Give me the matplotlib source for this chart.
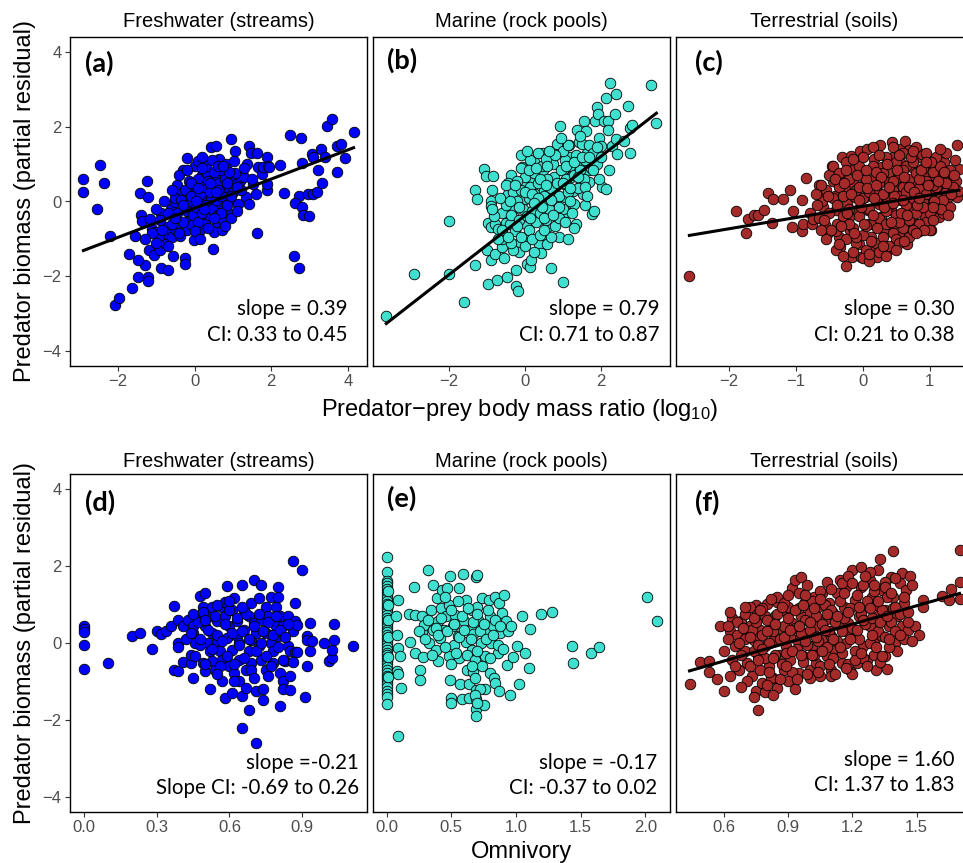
import matplotlib
matplotlib.use("Agg")
import matplotlib.pyplot as plt

plt.rcParams['font.family'] = ['Liberation Sans', 'DejaVu Sans']
plt.rcParams['mathtext.fontset'] = 'custom'
plt.rcParams['mathtext.rm'] = 'Liberation Sans'
plt.rcParams['mathtext.it'] = 'Liberation Sans:italic'

# ---- data (partial residuals) ----
# (a) freshwater, body mass ratio
fw_mass = [
    (-2.90, 0.60), (-2.90, 0.25), (-2.47, 0.98), (-2.36, 0.49), (-2.55, -0.20), (-2.21, -0.92),
    (-2.07, -2.77), (-1.98, -2.59), (-1.63, -2.32), (-1.47, -2.03), (-1.21, -2.01), (-1.21, -2.12),
    (-1.29, -1.70), (-1.47, -1.57), (-1.70, -1.41), (-1.20, -1.30), (-1.05, -1.44), (-0.90, -1.30),
    (-0.87, -1.79), (-0.68, -1.84), (-0.55, -1.45), (-0.24, -1.50), (-0.24, -1.66), (-1.55, -0.92),
    (-1.40, -0.35), (-1.37, -0.52), (-1.15, -0.46), (-1.12, -0.73), (-1.03, -0.82), (-0.93, -0.99),
    (-0.87, -0.31), (-0.77, -0.68), (-0.74, -1.13), (-0.68, -0.88), (-0.59, -0.95), (-0.48, -0.77),
    (-1.43, 0.22), (-1.21, 0.13), (-1.24, 0.54), (-0.61, -0.20), (-0.52, -0.02), (-0.45, 0.45),
    (-0.39, 0.20), (-0.37, -0.92), (-0.19, 1.16), (-0.29, 0.83), (-0.19, -0.77), (-0.17, -0.02),
    (-0.13, -0.42), (-0.07, -0.64), (-0.02, -1.02), (0.00, 0.96), (0.04, 0.31), (0.09, 1.07),
    (0.13, -0.75), (0.19, 0.72), (0.22, -0.06), (0.24, -0.42), (0.26, -0.59), (0.32, 0.75),
    (0.35, 0.12), (0.39, -0.37), (0.42, 1.45), (0.44, 0.07), (0.45, 0.36), (0.48, -1.26),
    (0.51, -0.81), (0.54, 0.65), (0.57, 1.49), (0.59, -0.55), (0.61, -0.11), (0.63, 1.14),
    (0.66, 0.12), (0.68, 0.83), (0.72, -0.77), (0.74, -0.24), (0.79, 0.38), (0.83, 1.00),
    (0.86, -0.31), (0.92, 0.07), (0.96, 1.67), (0.98, 0.65), (1.03, 1.07), (1.05, 1.36),
    (1.07, 0.47), (1.14, -0.06), (1.18, 0.56), (1.22, 0.65), (1.29, 0.65), (1.35, 0.13),
    (1.38, 1.00), (1.41, 1.49), (1.42, -0.08), (1.48, 1.31), (1.53, 0.47), (1.62, 1.31),
    (1.63, -0.84), (1.66, 0.91), (1.75, 0.74), (1.79, 0.93), (1.88, 1.18), (1.92, 0.96),
    (1.90, 0.31), (1.88, 0.47), (1.94, 0.93), (2.23, 0.98), (2.34, 0.22), (2.49, 1.78),
    (2.59, -1.45), (2.72, -1.77), (2.78, 1.69), (2.72, 0.16), (2.62, -0.04), (2.81, -0.15),
    (2.84, -0.37), (2.99, -0.40), (2.81, 1.02), (2.97, 0.20), (3.10, 0.20), (3.19, 0.25),
    (3.06, 1.27), (3.10, 1.18), (3.21, 0.83), (3.30, 1.40), (3.32, 0.49), (3.41, 1.18),
    (3.45, 2.02), (3.58, 2.22), (3.71, 0.78), (3.71, 1.49), (3.83, 1.54), (3.93, 1.16),
    (4.15, 1.85),
    (-0.50, 0.10), (-0.45, -0.30), (-0.35, 0.05), (-0.30, -0.55), (-0.25, 0.30), (-0.20, -0.25),
    (-0.15, 0.55), (-0.10, 0.15), (-0.05, -0.35), (0.00, 0.45), (0.05, -0.15), (0.10, 0.60),
    (0.10, -0.55), (0.15, 0.20), (0.20, -0.30), (0.25, 0.40), (0.30, -0.10), (0.30, 0.95),
    (0.35, -0.70), (0.40, 0.25), (0.45, -0.20), (0.50, 0.80), (0.55, 0.05), (0.60, -0.35),
    (0.65, 0.50), (0.70, 0.15), (0.75, -0.50), (0.80, 0.60), (0.85, -0.10), (0.90, 0.35),
    (0.95, -0.45), (1.00, 0.25), (1.05, 0.75), (1.10, -0.25), (1.20, 0.30), (-0.60, -0.60),
    (-0.70, -0.30), (-0.80, 0.00), (-0.90, -0.50), (-1.00, -0.20), (-0.40, 0.70), (-0.20, 0.85),
    (0.00, -0.80), (0.20, 1.20), (0.45, 1.10), (0.60, 0.30), (0.80, -0.65), (1.30, 0.90),
    (1.50, 0.60), (1.60, 0.20), (-1.10, -0.85), (-1.30, -1.00), (-1.00, -1.10), (-0.70, -1.20),
    (0.05, 0.00), (0.35, 0.55), (0.60, 0.95), (0.90, 0.80), (0.15, -1.00), (-0.40, -0.85),
    (-0.30, -0.10), (-0.10, 0.50), (0.10, 0.35), (0.25, -0.20), (0.40, 0.50), (0.55, 0.25),
    (0.70, -0.30), (0.85, 0.50), (0.95, 0.15), (0.20, 0.90), (-0.50, -0.45), (-0.60, 0.30),
    (0.50, -0.45), (0.75, 0.95), (1.10, 0.40), (-0.85, -0.75),
]

# (b) marine, body mass ratio
mar_mass = [
    (-3.65, -3.05), (-2.93, -1.93), (-2.00, -0.52), (-2.00, -1.94), (-1.59, -2.68), (-1.30, 0.31),
    (-1.27, 0.07), (-1.08, 0.87), (-1.01, 0.67), (-0.83, 0.67), (-0.86, 0.31), (-0.88, 0.01),
    (-0.88, -0.13), (-1.30, -1.70), (-0.97, -2.21), (-0.74, -2.09), (-0.48, -2.01), (-0.22, -2.26),
    (-0.18, -2.39), (-0.22, -1.82), (-0.97, -0.58), (-0.90, -0.68), (-0.79, -0.59), (-0.71, -0.73),
    (-0.50, -0.58), (-0.99, -1.29), (-0.90, -1.57), (-0.79, -1.41), (-0.59, -1.22), (-0.59, -0.99),
    (-0.37, 0.72), (-0.37, 0.45), (-0.33, 0.07), (-0.30, -0.15), (-0.28, -0.42), (-0.19, -1.13),
    (-0.15, -1.35), (-0.09, 1.25), (-0.06, 0.91), (-0.02, 0.47), (0.00, 0.07), (0.03, -0.59),
    (0.05, -0.95), (0.07, -1.66), (0.14, -1.75), (0.16, -1.57), (0.20, 0.60), (0.25, 1.05),
    (0.26, 0.20), (0.29, -0.15), (0.34, -0.42), (0.38, -1.13), (0.42, -1.38), (0.47, 1.31),
    (0.49, 0.83), (0.51, 0.29), (0.56, -0.06), (0.58, -0.68), (0.60, -0.95), (0.69, -1.79),
    (0.73, 1.18), (0.76, 0.65), (0.79, 0.38), (0.82, 0.03), (0.86, -0.42), (0.91, -0.95),
    (0.94, 2.02), (0.95, 1.40), (1.00, -2.15), (1.00, 0.83), (1.04, 0.47), (1.06, 0.12),
    (1.09, -0.28), (1.13, -0.99), (1.17, 1.52), (1.20, 1.18), (1.22, 0.65), (1.26, 0.29),
    (1.31, -0.06), (1.35, -0.59), (1.39, 1.91), (1.44, 1.58), (1.47, 1.00), (1.48, 0.51),
    (1.53, 0.20), (1.57, 2.14), (1.62, 1.89), (1.64, 1.31), (1.66, 0.83), (1.70, 0.51),
    (1.77, -0.33), (1.82, -0.26), (1.84, 2.16), (1.91, 2.53), (1.93, 2.33), (1.97, 1.71),
    (2.01, 1.49), (2.03, 0.38), (2.08, 2.16), (2.14, 2.78), (2.14, 0.34), (2.19, 2.16),
    (2.21, 0.83), (2.26, 3.18), (2.30, 1.49), (2.37, 2.35), (2.41, 2.87), (2.41, 1.67),
    (2.44, 1.27), (2.73, 2.56), (2.77, 1.96), (2.77, 1.29), (3.33, 3.11), (3.47, 2.09),
    (2.82, 2.05), (2.63, 1.62),
    (-0.60, -0.30), (-0.50, -0.10), (-0.45, 0.20), (-0.40, -0.60), (-0.35, -0.35), (-0.30, 0.25),
    (-0.25, -0.80), (-0.20, 0.00), (-0.15, -0.50), (-0.10, 0.30), (-0.05, -0.20), (0.00, 0.65),
    (0.05, -0.40), (0.10, 0.10), (0.10, -0.75), (0.15, 0.40), (0.20, -0.25), (0.25, 0.75),
    (0.30, -0.55), (0.30, 0.05), (0.35, 0.50), (0.40, -0.30), (0.45, 0.95), (0.50, 0.15),
    (0.55, -0.50), (0.60, 0.60), (0.65, -0.20), (0.70, 0.35), (0.75, 1.00), (0.80, -0.65),
    (0.85, 0.50), (0.90, 0.15), (0.95, 0.85), (1.00, -0.20), (1.05, 1.10), (1.10, 0.60),
    (1.15, 0.25), (1.20, 0.95), (1.25, -0.30), (1.30, 0.70), (1.35, 1.25), (1.40, 0.35),
    (1.45, 0.85), (1.50, 1.55), (1.55, 0.60), (1.60, 1.10), (1.70, 1.50), (1.75, 0.90),
    (1.80, 1.30), (1.90, 1.00), (-0.70, -1.00), (-0.80, -0.40), (-0.55, -1.50), (-0.30, -1.30),
    (0.00, -1.20), (0.20, -1.00), (0.40, -0.90), (0.60, -1.15), (0.90, -0.45), (1.20, 0.00),
    (-0.10, 0.90), (0.15, 1.10), (0.35, 1.30), (0.55, 1.15), (0.70, -0.95), (-0.45, 0.50),
    (-0.20, 0.55), (0.05, 1.35), (0.85, 1.55), (1.00, 1.35), (-0.65, 0.10), (-0.85, -0.20),
    (-0.35, -1.10), (0.25, -1.35), (0.50, -0.75), (1.30, -0.70), (1.60, -0.10), (2.00, 1.20),
    (1.95, 0.60), (2.20, 1.90),
    (-0.50, 0.45), (-0.40, 0.00), (-0.25, 0.45), (-0.15, -0.15), (0.00, 0.25), (0.10, 0.85),
    (0.20, 0.20), (0.30, 0.90), (0.40, 0.60), (0.50, -0.45), (0.60, 0.95), (0.70, 0.05),
    (0.80, 1.25), (0.90, -0.15), (1.00, 0.50), (1.10, 0.95), (1.20, 0.35), (1.30, 1.05),
    (1.40, 0.65), (1.50, 1.20), (1.60, 0.40), (1.70, 1.20), (1.80, 0.85), (1.90, 1.45),
    (-0.60, -0.75), (-0.45, -0.95), (-0.20, -0.65), (0.15, -0.45), (0.45, -0.15), (0.75, -0.35),
    (1.05, -0.55), (-0.10, -0.95), (0.35, 0.10), (0.65, 1.35), (1.15, 1.50), (1.45, 1.75),
    (1.65, 0.15), (0.95, 1.70), (0.55, 0.45), (0.25, -0.05),
]

# (c) terrestrial, body mass ratio
ter_mass = [
    (-2.59, -1.99), (-1.90, -0.26), (-1.75, -0.84), (-1.71, -0.46), (-1.63, -0.37), (-1.56, -0.37),
    (-1.48, -0.24), (-1.41, 0.22), (-1.34, 0.07), (-1.35, -0.57), (-1.19, 0.07), (-1.09, 0.31),
    (-1.05, -0.68), (-1.04, -0.26), (-0.91, 0.04), (-0.90, -0.80), (-0.89, -0.59), (-0.85, 0.63),
    (-0.78, -0.31), (-0.76, -0.59), (-0.74, -0.46), (-0.65, 0.43), (-0.61, 0.20), (-0.59, -0.15),
    (-0.56, -0.64), (-0.54, -0.86), (-0.46, 0.96), (-0.44, 0.56), (-0.41, 0.16), (-0.40, -0.24),
    (-0.39, -0.59), (-0.36, -0.95), (-0.34, -1.22), (-0.31, 1.18), (-0.29, 0.74), (-0.26, 0.38),
    (-0.25, -1.73), (-0.24, -0.06), (-0.21, -0.42), (-0.19, -0.77), (-0.18, 1.22), (-0.16, -1.48),
    (-0.15, 0.83), (-0.13, 0.47), (-0.11, 0.12), (-0.09, -0.24), (-0.06, -1.13), (-0.04, 1.36),
    (-0.03, -1.48), (-0.01, 0.83), (0.02, 0.47), (0.04, 0.12), (0.07, 1.40), (0.08, -0.24),
    (0.09, -0.59), (0.12, -0.95), (0.14, -1.22), (0.17, 1.14), (0.19, 0.65), (0.21, -1.48),
    (0.22, 0.29), (0.24, -0.06), (0.26, 1.52), (0.27, -0.42), (0.29, 0.91), (0.32, -0.77),
    (0.34, 0.56), (0.37, 0.12), (0.39, -1.26), (0.42, -0.24), (0.44, 1.58), (0.46, 1.18),
    (0.47, -0.59), (0.49, 0.74), (0.52, 0.38), (0.54, 1.40), (0.56, -0.95), (0.57, 0.03),
    (0.59, 1.00), (0.62, -0.42), (0.63, 1.62), (0.64, 0.56), (0.67, -1.13), (0.69, 1.38),
    (0.71, 0.20), (0.72, -0.77), (0.74, 0.91), (0.77, -0.24), (0.79, 0.47), (0.82, -0.59),
    (0.84, 1.18), (0.87, 0.12), (0.89, 1.27), (0.91, 0.65), (0.93, -0.42), (0.96, 0.29),
    (0.97, -0.06), (0.99, 1.00), (1.02, -0.77), (1.04, 0.56), (1.07, -0.24), (1.09, 0.12),
    (1.12, 0.74), (1.14, -0.42), (1.17, 1.18), (1.19, 0.38), (1.21, 1.05), (1.22, -0.06),
    (1.24, 0.47), (1.27, 0.12), (1.32, 0.65), (1.39, 0.56), (1.41, 1.51), (1.41, 0.13),
    (1.44, 0.87), (1.43, 0.29),
    (-0.60, 0.00), (-0.55, 0.30), (-0.50, -0.30), (-0.45, 0.10), (-0.40, -0.80), (-0.35, 0.40),
    (-0.30, -0.40), (-0.30, 0.15), (-0.25, -1.00), (-0.20, 0.60), (-0.20, -0.20), (-0.15, -0.70),
    (-0.10, 0.30), (-0.10, -1.10), (-0.05, 0.95), (-0.05, -0.40), (0.00, 0.10), (0.00, -0.90),
    (0.05, 0.60), (0.05, -1.30), (0.10, -0.20), (0.10, 0.25), (0.15, -0.60), (0.15, 0.95),
    (0.20, -1.10), (0.20, 0.05), (0.25, -0.45), (0.25, 0.50), (0.30, -0.95), (0.30, 0.20),
    (0.35, -0.60), (0.35, 1.20), (0.40, -0.10), (0.40, 0.80), (0.45, -0.85), (0.45, 0.30),
    (0.50, -0.35), (0.50, 1.05), (0.50, -1.00), (0.55, 0.15), (0.55, 0.65), (0.60, -0.70),
    (0.60, 0.40), (0.65, -0.10), (0.65, 0.95), (0.70, -0.50), (0.70, 0.60), (0.75, 0.10),
    (0.75, 1.05), (0.80, -0.30), (0.80, 0.75), (0.85, -0.80), (0.85, 0.35), (0.90, 0.00),
    (0.90, 0.90), (0.95, -0.55), (0.95, 0.55), (1.00, 0.20), (1.00, -0.30), (1.05, 0.80),
    (1.05, -0.50), (1.10, 0.40), (1.10, -0.05), (1.15, 0.95), (1.15, 0.10), (1.20, -0.30),
    (1.20, 0.60), (1.25, 0.25), (1.30, 0.85), (1.30, -0.15), (1.35, 0.40), (1.38, 1.10),
    (-0.65, -0.45), (-0.70, 0.20), (-0.50, 0.70), (-0.40, -1.30), (-0.30, -1.45), (-0.15, -1.35),
    (0.00, -1.50), (0.10, -1.60), (0.25, -1.35), (0.40, -1.20), (0.55, -1.10), (0.70, -0.95),
    (0.85, -0.60), (1.00, -0.75), (0.00, 1.20), (0.15, 1.45), (0.45, 1.45), (0.60, 1.30),
    (0.80, 1.45), (0.95, 1.30), (1.10, 1.20), (1.25, 1.30), (-0.45, 0.95), (-0.35, 0.75),
    (-0.25, 1.05), (0.30, 0.75), (0.65, 0.25), (0.35, -0.25), (-0.05, 0.40), (0.20, 0.80),
    (0.75, -0.75), (0.90, -0.15), (1.20, 0.05), (0.55, -0.55), (-0.20, -0.60), (0.05, -0.65),
    (0.45, 0.55), (0.85, 0.60), (1.05, 0.45), (0.60, 0.85), (0.30, -1.20), (-0.10, -0.95),
    (0.70, 0.40), (0.95, 0.20), (1.25, 0.50),
    (-0.68, -0.10), (-0.62, 0.45), (-0.58, -0.50), (-0.52, 0.15), (-0.48, -0.75), (-0.42, 0.60),
    (-0.38, -0.10), (-0.33, -0.65), (-0.28, 0.50), (-0.23, -0.30), (-0.18, 0.20), (-0.13, -0.85),
    (-0.08, 0.70), (-0.03, -0.15), (0.02, -0.60), (0.07, 0.35), (0.12, -1.05), (0.17, 0.10),
    (0.22, -0.70), (0.27, 0.65), (0.32, -0.15), (0.37, 1.00), (0.42, -0.55), (0.47, 0.15),
    (0.52, 0.85), (0.57, -0.30), (0.62, 0.65), (0.67, -0.35), (0.72, 1.20), (0.77, 0.25),
    (0.82, -0.10), (0.87, 0.85), (0.92, -0.75), (0.97, 0.45), (1.02, 1.05), (1.07, 0.00),
    (1.12, 0.55), (1.17, -0.20), (1.22, 0.80), (1.27, -0.35), (1.32, 0.20), (1.37, 0.70),
    (-0.15, 1.15), (0.05, 0.85), (0.25, 1.25), (0.55, 1.25), (0.75, 1.35), (0.95, 1.05),
    (1.15, 1.40), (-0.35, -1.15), (0.10, -1.40), (0.35, -1.45), (0.50, -1.30), (0.62, -1.05),
    (0.80, -0.85), (-0.55, -1.00), (-0.62, -0.75), (0.45, -0.05), (0.15, -0.35), (-0.05, 0.05),
    (0.60, 0.05), (0.85, 0.10), (1.05, -0.15), (0.40, 0.40), (0.20, 0.45), (-0.25, 0.85),
]

# (d) freshwater, omnivory
fw_omni = [
    (0.00, 0.43), (0.00, 0.36), (0.00, 0.28), (0.00, -0.04), (0.00, -0.67), (0.10, -0.52),
    (0.20, 0.17), (0.23, 0.26), (0.28, -0.16), (0.30, 0.32), (0.32, 0.24), (0.34, 0.32),
    (0.36, 0.43), (0.37, 0.97), (0.37, -0.69), (0.39, -0.72), (0.39, 0.59), (0.39, 0.00),
    (0.39, -0.10), (0.41, -0.50), (0.41, 0.45), (0.43, 0.59), (0.44, -0.52), (0.44, -0.30),
    (0.45, -0.91), (0.45, 0.26), (0.45, 0.43), (0.46, 0.00), (0.47, 0.69), (0.48, 1.22),
    (0.49, 0.95), (0.49, -0.52), (0.50, -0.72), (0.50, 0.43), (0.50, 1.29), (0.51, 0.00),
    (0.52, 0.69), (0.52, -0.22), (0.52, -1.21), (0.53, 0.26), (0.53, -0.47), (0.53, 0.93),
    (0.54, -0.69), (0.55, 0.02), (0.55, 0.56), (0.56, -0.22), (0.57, 0.95), (0.57, -0.99),
    (0.57, -0.43), (0.58, -1.42), (0.58, 0.69), (0.58, 1.08), (0.59, 0.13), (0.59, 1.48),
    (0.60, -0.60), (0.60, 0.43), (0.61, -1.29), (0.61, 0.86), (0.61, -0.17), (0.62, -0.78),
    (0.62, 1.16), (0.63, 0.17), (0.63, 0.56), (0.64, -0.45), (0.64, 0.00), (0.64, -0.99),
    (0.65, 1.51), (0.65, -2.20), (0.65, -1.38), (0.66, 0.86), (0.66, 0.34), (0.67, -0.69),
    (0.67, -1.16), (0.68, -1.74), (0.68, -0.22), (0.68, 0.69), (0.69, 1.03), (0.69, 0.09),
    (0.69, -0.52), (0.70, 1.64), (0.70, 0.52), (0.71, 0.26), (0.71, -2.60), (0.71, -1.25),
    (0.72, 1.16), (0.72, -0.09), (0.73, 1.51), (0.73, -0.43), (0.73, 0.60), (0.74, -1.21),
    (0.74, -1.48), (0.75, 0.95), (0.75, -0.69), (0.75, 0.26), (0.76, -0.86), (0.76, 0.69),
    (0.77, 1.21), (0.77, 0.00), (0.78, -0.22), (0.78, -0.52), (0.79, 0.43), (0.79, 0.95),
    (0.80, 0.17), (0.80, 1.47), (0.80, 1.21), (0.81, 0.69), (0.81, -1.64), (0.81, -0.78),
    (0.82, -0.99), (0.82, -1.21), (0.82, 0.43), (0.83, -0.47), (0.84, 0.69), (0.84, -0.09),
    (0.85, -0.22), (0.85, -1.22), (0.85, -0.86), (0.86, 2.14), (0.86, 0.30), (0.87, 0.56),
    (0.87, 1.03), (0.87, -0.24), (0.88, 0.47), (0.88, -0.24), (0.90, 1.90), (0.91, -1.40),
    (0.92, -0.60), (0.92, 0.17), (0.92, 0.09), (0.93, -0.22), (0.93, 0.52), (0.94, 0.04),
    (0.99, 0.00), (1.01, -0.47), (1.02, -0.39), (1.02, -0.17), (1.03, 0.07), (1.03, 0.50),
    (1.11, -0.09),
    (0.42, 0.10), (0.44, 0.25), (0.46, -0.35), (0.47, 0.55), (0.48, -0.05), (0.49, 0.80),
    (0.50, -0.55), (0.51, 0.35), (0.53, -0.15), (0.54, 0.70), (0.55, 0.20), (0.56, -0.60),
    (0.57, 0.05), (0.58, 0.50), (0.59, -0.35), (0.60, 0.85), (0.61, 0.25), (0.62, -0.55),
    (0.63, 0.65), (0.64, -0.05), (0.65, 0.30), (0.66, -0.40), (0.67, 0.75), (0.68, 0.10),
    (0.69, -0.70), (0.70, 0.45), (0.71, -0.20), (0.72, 0.75), (0.73, 0.00), (0.74, 0.30),
    (0.75, -0.35), (0.76, 0.55), (0.77, -0.60), (0.78, 0.20), (0.79, 0.70), (0.80, -0.10),
    (0.81, 0.35), (0.82, -0.45), (0.83, 0.15), (0.84, 0.50), (0.45, 0.75), (0.50, 0.60),
    (0.55, 1.00), (0.60, 1.10), (0.65, 0.95), (0.70, -0.90), (0.62, -1.00), (0.55, -0.80),
    (0.48, 0.10), (0.86, -0.50),
]

# (e) marine, omnivory
mar_omni = [
    (0.00, 2.24), (0.00, 1.85), (0.00, 1.62), (0.00, 1.55), (0.00, 1.48), (0.00, 1.40),
    (0.00, 1.32), (0.00, 1.25), (0.00, 1.18), (0.00, 1.10), (0.00, 1.02), (0.00, 0.95),
    (0.00, 0.88), (0.00, 0.80), (0.00, 0.72), (0.00, 0.65), (0.00, 0.58), (0.00, 0.50),
    (0.00, 0.42), (0.00, 0.35), (0.00, 0.28), (0.00, 0.20), (0.00, 0.12), (0.00, 0.05),
    (0.00, -0.02), (0.00, -0.10), (0.00, -0.18), (0.00, -0.25), (0.00, -0.32), (0.00, -0.40),
    (0.00, -0.48), (0.00, -0.55), (0.00, -0.62), (0.00, -0.70), (0.00, -0.78), (0.00, -0.85),
    (0.00, -0.92), (0.00, -1.00), (0.00, -1.08), (0.00, -1.15), (0.00, -1.25), (0.00, -1.32),
    (0.00, -1.40), (0.00, -1.58), (0.01, 1.36), (0.01, 0.98), (0.01, 0.60), (0.01, 0.15),
    (0.01, -0.36), (0.01, -0.88),
    (0.09, 1.12), (0.07, 0.71), (0.08, 0.22), (0.09, -0.13), (0.10, -0.34), (0.08, -0.73),
    (0.09, -0.82), (0.11, -1.16), (0.09, -2.43),
    (0.17, 0.76), (0.18, 0.03), (0.21, 1.45), (0.22, 0.73), (0.22, -0.26), (0.26, -0.69),
    (0.26, -0.97), (0.27, 0.69), (0.27, 0.28), (0.28, -0.36), (0.29, 0.47), (0.32, 1.91),
    (0.33, 0.00), (0.34, 0.86), (0.36, 0.33), (0.36, 1.51), (0.38, -0.17), (0.39, 1.16),
    (0.40, 0.56), (0.40, -0.47), (0.41, 0.13), (0.42, 0.91), (0.43, 1.38), (0.44, 0.34),
    (0.46, 0.69), (0.47, 1.42), (0.48, 0.99), (0.48, -0.34), (0.49, 1.74), (0.49, -0.97),
    (0.50, -1.42), (0.50, -1.55), (0.51, 0.43), (0.52, -0.04), (0.53, 0.73), (0.55, 0.17),
    (0.56, 1.42), (0.56, -0.39), (0.57, -1.08), (0.58, -1.47), (0.59, 1.79), (0.60, 0.56),
    (0.61, 1.12), (0.61, 0.02), (0.62, -0.69), (0.64, -1.08), (0.64, -1.42), (0.65, 0.34),
    (0.66, 0.86), (0.66, -0.17), (0.67, -0.76), (0.67, 0.24), (0.68, -0.91), (0.69, -1.22),
    (0.69, -1.47), (0.69, -1.72), (0.69, -1.90), (0.69, 1.72), (0.70, 1.77), (0.70, 0.95),
    (0.71, -0.52), (0.71, 0.60), (0.73, 0.00), (0.74, 1.16), (0.75, -1.62), (0.76, -1.21),
    (0.76, -0.34), (0.78, 0.26), (0.79, 1.12), (0.80, 0.69), (0.80, -0.78), (0.81, 0.00),
    (0.82, 0.43), (0.83, -0.91), (0.84, -1.03), (0.84, 1.21), (0.86, -0.26), (0.87, 1.03),
    (0.87, -1.25), (0.88, 0.26), (0.89, 0.78), (0.91, 1.25), (0.92, 0.56), (0.93, -0.56),
    (0.94, 0.30), (0.95, -1.36), (0.96, 0.43), (0.98, -0.36), (1.01, -0.07), (1.02, -1.08),
    (1.05, 0.69), (1.07, -0.26), (1.10, -0.65), (1.11, 0.36), (1.19, 0.76), (1.28, 0.82),
    (1.43, -0.07), (1.44, -0.52), (1.58, -0.26), (1.64, -0.10), (2.01, 1.21), (2.09, 0.56),
    (0.25, 0.30), (0.30, 0.10), (0.32, 0.60), (0.35, -0.30), (0.38, 0.40), (0.40, 0.20),
    (0.42, 0.65), (0.45, -0.10), (0.47, 0.30), (0.50, 0.85), (0.52, 0.50), (0.54, -0.25),
    (0.56, 0.15), (0.58, 0.70), (0.60, 0.35), (0.62, -0.30), (0.63, 0.90), (0.65, 0.10),
    (0.67, 0.55), (0.68, -0.45), (0.70, 0.75), (0.72, 0.30), (0.74, -0.60), (0.75, 0.50),
    (0.77, 0.10), (0.78, 0.85), (0.80, -0.40), (0.82, 0.20), (0.84, 0.60), (0.86, -0.05),
    (0.88, 0.45), (0.90, -0.15), (0.70, -0.20), (0.72, -1.20), (0.68, -1.35), (0.70, -1.55),
    (0.66, -0.60), (0.50, -0.55), (0.55, 1.10), (0.45, 1.20),
]

# (f) terrestrial, omnivory
ter_omni = [
    (0.44, -1.08), (0.49, -0.50), (0.53, -0.47), (0.53, -0.76), (0.58, 0.43), (0.63, 0.30),
    (0.63, -0.86), (0.64, 0.65), (0.65, -0.09), (0.67, -0.69), (0.68, 0.56), (0.69, 0.17),
    (0.70, -0.22), (0.71, -0.52), (0.72, 0.45), (0.73, -0.86), (0.74, 0.09), (0.75, 0.86),
    (0.75, -1.25), (0.76, -1.74), (0.76, -0.34), (0.77, 0.34), (0.78, -1.03), (0.79, 0.69),
    (0.79, -1.28), (0.79, -0.09), (0.80, 1.02), (0.81, -0.60), (0.82, 0.43), (0.83, -0.91),
    (0.83, 0.09), (0.84, 0.69), (0.85, -1.16), (0.85, 1.08), (0.86, -0.30), (0.87, 0.34),
    (0.88, -0.69), (0.88, 0.86), (0.89, -0.09), (0.90, 0.95), (0.91, -0.43), (0.92, 1.42),
    (0.92, 0.52), (0.93, -1.21), (0.93, 1.64), (0.94, 0.09), (0.95, -0.78), (0.96, 0.69),
    (0.96, 1.71), (0.97, -0.34), (0.98, 1.08), (0.99, 1.51), (0.99, 0.26), (1.00, -0.69),
    (1.00, 0.78), (1.01, -0.09), (1.02, 1.21), (1.03, 0.43), (1.03, -0.52), (1.04, 0.95),
    (1.05, -0.86), (1.06, 0.09), (1.06, 1.29), (1.07, 0.60), (1.08, -0.34), (1.09, 1.03),
    (1.10, 0.17), (1.10, -0.69), (1.11, 0.78), (1.12, -0.17), (1.13, 1.29), (1.14, 0.43),
    (1.14, 1.64), (1.15, -0.52), (1.16, 0.95), (1.17, 0.00), (1.17, 1.47), (1.18, 0.52),
    (1.19, -0.69), (1.20, 1.90), (1.21, 1.12), (1.21, 0.17), (1.22, -0.52), (1.23, 0.69),
    (1.24, 1.98), (1.24, 1.47), (1.25, -0.09), (1.26, 0.95), (1.27, -0.43), (1.28, 0.43),
    (1.28, 1.64), (1.29, 1.21), (1.30, 0.00), (1.31, -0.69), (1.32, 0.69), (1.32, 1.90),
    (1.33, 2.20), (1.34, 0.17), (1.34, 1.38), (1.35, -0.34), (1.35, 0.86), (1.36, -0.67),
    (1.37, 0.43), (1.38, 1.72), (1.39, 1.21), (1.39, 2.39), (1.40, 0.00), (1.41, 0.69),
    (1.41, -0.22), (1.42, 1.55), (1.43, 1.81), (1.43, 0.43), (1.44, 1.03), (1.45, 1.38),
    (1.46, 0.34), (1.47, 1.74), (1.48, 1.51), (1.49, 0.43), (1.51, 0.22), (1.53, 1.12),
    (1.53, 0.95), (1.62, 1.22), (1.66, 1.40), (1.65, 1.12), (1.70, 2.41), (1.70, 1.59),
    (1.70, 1.14),
    (0.66, 0.20), (0.68, -0.30), (0.70, 0.10), (0.72, -0.60), (0.73, 0.35), (0.74, -0.20),
    (0.75, 0.55), (0.76, -0.05), (0.77, -0.70), (0.78, 0.20), (0.79, -0.40), (0.80, 0.60),
    (0.81, 0.00), (0.82, -0.90), (0.83, 0.30), (0.84, -0.30), (0.85, 0.75), (0.86, 0.10),
    (0.87, -0.55), (0.88, 0.45), (0.89, -0.25), (0.90, 0.65), (0.91, 0.15), (0.92, -0.75),
    (0.93, 0.40), (0.94, -0.15), (0.95, 0.90), (0.96, 0.25), (0.97, -0.50), (0.98, 0.60),
    (0.99, -0.05), (1.00, 0.35), (1.01, 1.10), (1.02, -0.30), (1.03, 0.70), (1.04, 0.05),
    (1.05, -0.60), (1.06, 0.50), (1.07, 1.00), (1.08, -0.10), (1.09, 0.30), (1.10, 0.85),
    (1.11, -0.40), (1.12, 0.55), (1.13, 0.05), (1.14, 1.10), (1.15, -0.25), (1.16, 0.65),
    (1.17, 0.30), (1.18, -0.55), (1.19, 0.90), (1.20, 0.40), (1.21, -0.20), (1.22, 1.25),
    (1.23, 0.10), (1.24, 0.75), (1.25, -0.40), (1.26, 0.50), (1.27, 1.10), (1.28, 0.00),
    (1.29, 0.65), (1.30, -0.30), (1.31, 1.00), (1.32, 0.30), (1.33, -0.50), (1.34, 0.85),
    (1.35, 0.15), (1.36, 1.20), (1.37, -0.10), (1.38, 0.55), (1.39, 0.90), (1.40, 0.30),
    (1.42, 0.75), (1.44, 0.10), (1.46, 0.55), (0.70, 0.75), (0.75, 1.00), (0.80, -1.10),
    (0.85, 1.20), (0.90, -1.00), (0.95, 1.30), (1.00, -0.90), (1.05, 1.35), (1.10, -0.85),
    (1.15, 1.55), (1.20, -0.80), (1.25, 1.50), (1.30, 1.35), (1.35, 1.60), (0.62, 0.10),
    (0.64, -0.45), (0.66, 0.55), (0.72, 0.95), (0.78, 0.90), (0.88, 1.05), (0.98, 1.25),
    (1.08, 1.60), (1.18, 1.75), (1.28, 1.85), (1.40, 1.70),
    (0.60, -0.20), (0.62, 0.45), (0.65, -0.60), (0.67, 0.00), (0.69, 0.40), (0.71, -1.00),
    (0.72, 0.15), (0.74, 0.65), (0.76, -0.45), (0.77, 0.85), (0.78, -0.15), (0.80, 0.30),
    (0.81, -0.75), (0.82, 1.15), (0.83, -0.40), (0.84, 0.50), (0.86, -0.95), (0.87, 0.95),
    (0.88, 0.15), (0.89, -0.60), (0.90, 1.25), (0.91, 0.35), (0.92, -0.20), (0.93, 0.85),
    (0.94, -0.95), (0.95, 0.45), (0.96, -0.30), (0.97, 1.00), (0.98, 0.05), (0.99, -0.80),
    (1.00, 0.55), (1.01, -0.30), (1.02, 0.90), (1.03, 0.15), (1.04, -0.75), (1.05, 1.15),
    (1.06, -0.20), (1.07, 0.35), (1.08, 0.75), (1.09, -0.55), (1.10, 1.40), (1.11, 0.10),
    (1.12, -0.80), (1.13, 0.70), (1.14, -0.10), (1.15, 0.30), (1.16, 1.30), (1.17, -0.65),
    (1.18, 0.80), (1.19, 0.10), (1.20, 1.55), (1.21, -0.45), (1.22, 0.35), (1.23, 0.95),
    (1.24, -0.25), (1.25, 0.60), (1.26, 1.75), (1.27, -0.60), (1.28, 0.90), (1.29, 0.20),
    (1.30, 1.50), (1.31, -0.10), (1.32, 1.10), (1.33, 0.55), (1.34, -0.35), (1.35, 1.45),
    (1.36, 0.70), (1.37, 0.10), (1.38, 1.30), (1.40, 0.95), (1.42, 0.20), (1.44, 1.20),
    (1.46, 0.80), (1.48, 0.05), (0.57, -0.95), (0.60, -1.25), (0.68, -1.15), (0.74, -1.40),
    (0.83, -1.35), (0.70, 0.95), (0.63, 0.80),
]

# fitted slopes / intercepts (None = no line drawn)
slopes = [0.39, 0.79, 0.30, None, None, 1.60]
intercepts = [-0.18, -0.38, -0.13, None, None, -1.43]

titles = ['Freshwater (streams)', 'Marine (rock pools)', 'Terrestrial (soils)']
tags = ['(a)', '(b)', '(c)', '(d)', '(e)', '(f)']
stat_lines = [
    ('slope = 0.39', 'CI: 0.33 to 0.45'),
    ('slope = 0.79', 'CI: 0.71 to 0.87'),
    ('slope = 0.30', 'CI: 0.21 to 0.38'),
    ('slope =-0.21', 'Slope CI: -0.69 to 0.26'),
    ('slope = -0.17', 'CI: -0.37 to 0.02'),
    ('slope = 1.60', 'CI: 1.37 to 1.83'),
]
xticks = [[-2, 0, 2, 4], [-2, 0, 2], [-2, -1, 0, 1],
          [0.0, 0.3, 0.6, 0.9], [0.0, 0.5, 1.0, 1.5, 2.0], [0.6, 0.9, 1.2, 1.5]]
xlims = [(-3.25, 4.5), (-4.0, 3.83), (-2.79, 1.65),
         (-0.056, 1.166), (-0.105, 2.19), (0.377, 1.763)]

colors = ['#0000FF', '#40E0D0', '#A52A2A'] * 2
panels = [fw_mass, mar_mass, ter_mass, fw_omni, mar_omni, ter_omni]

fig = plt.figure(figsize=(9.63, 8.63), dpi=100)
W, H = 963, 863
lefts = [70, 373, 676]
rows = [(37, 366), (474, 812)]
annot_font = ['Lato', 'DejaVu Sans']
tag_pos = [(0.050, 0.921), (0.047, 0.930), (0.064, 0.924),
           (0.050, 0.917), (0.047, 0.929), (0.064, 0.917)]
stat_x = [0.936, 0.966, 0.939, 0.973, 0.956, 0.939]
stat_y = [(0.173, 0.094)] * 3 + [(0.145, 0.071), (0.145, 0.071), (0.154, 0.080)]

for i, pts in enumerate(panels):
    r, c = divmod(i, 3)
    top, bot = rows[r]
    ax = fig.add_axes([lefts[c] / W, 1 - bot / H, 297 / W, (bot - top) / H])
    xs = [p[0] for p in pts]
    ys = [p[1] for p in pts]
    ax.scatter(xs, ys, s=58, c=colors[i], edgecolors='black', linewidths=0.6, zorder=2)
    if slopes[i] is not None:
        x0, x1 = min(xs), max(xs)
        ax.plot([x0, x1], [intercepts[i] + slopes[i] * x0, intercepts[i] + slopes[i] * x1],
                color='black', lw=2.2, zorder=3)
    ax.set_xlim(*xlims[i])
    ax.set_ylim(-4.4, 4.4)
    ax.set_xticks(xticks[i])
    if r == 1:
        ax.set_xticklabels(['%.1f' % v for v in xticks[i]])
    else:
        ax.set_xticklabels([str(v).replace('-', '\u2212') for v in xticks[i]])
    if c == 0:
        ax.set_yticks([-4, -2, 0, 2, 4])
        ax.set_yticklabels(['\u22124', '\u22122', '0', '2', '4'])
    else:
        ax.set_yticks([])
    ax.tick_params(labelsize=12, labelcolor='#4D4D4D', color='#333333',
                   length=3.5, width=0.8, direction='out', pad=2.5)
    for sp in ax.spines.values():
        sp.set_linewidth(1.0)
        sp.set_color('black')
    ax.set_title(titles[c], fontsize=14.5, pad=7 if r == 0 else 5)
    ax.text(tag_pos[i][0], tag_pos[i][1], tags[i], transform=ax.transAxes,
            fontsize=19.5, fontweight='bold', family=annot_font, ha='left', va='center')
    ax.text(stat_x[i], stat_y[i][0], stat_lines[i][0], transform=ax.transAxes,
            fontsize=14.8, family=annot_font, ha='right', va='center')
    ax.text(stat_x[i], stat_y[i][1], stat_lines[i][1], transform=ax.transAxes,
            fontsize=14.8, family=annot_font, ha='right', va='center')

ylab = 'Predator biomass (partial residual)'
fig.text(25 / W, 1 - 201 / H, ylab, rotation=90, fontsize=17, ha='center', va='center')
fig.text(25 / W, 1 - 643 / H, ylab, rotation=90, fontsize=17, ha='center', va='center')
fig.text(520 / W, 1 - 410 / H, r'Predator$-$prey body mass ratio $\left(\mathrm{log}_{10}\right)$',
         fontsize=17, ha='center', va='center')
fig.text(522 / W, 1 - 852 / H, 'Omnivory', fontsize=17, ha='center', va='center')

fig.savefig('out.png', dpi=100)
